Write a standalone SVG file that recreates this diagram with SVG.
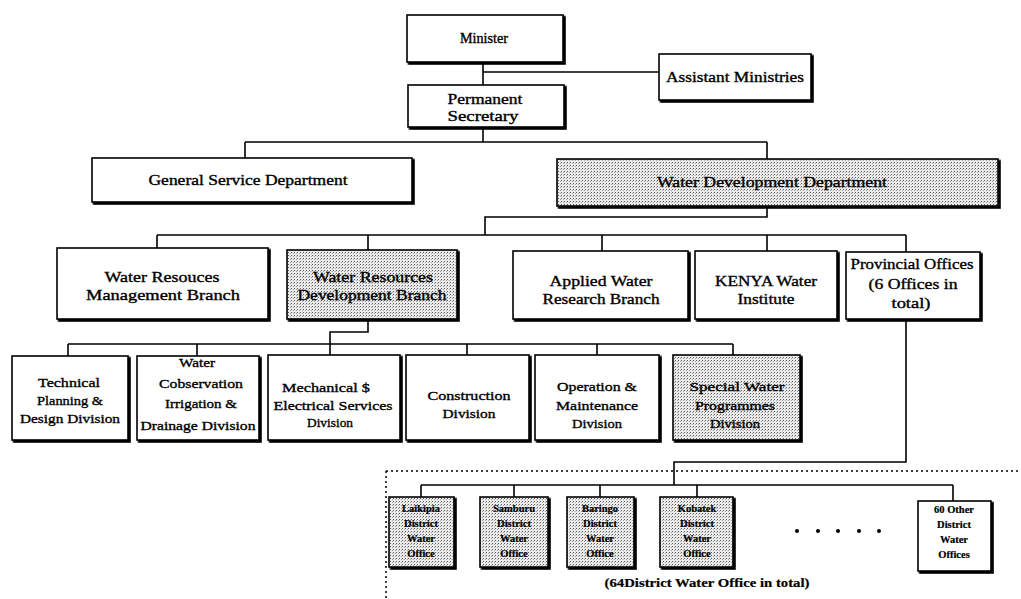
<svg xmlns="http://www.w3.org/2000/svg" width="1021" height="599" viewBox="0 0 1021 599">
  <defs>
    <!-- heavy right/bottom edge on every box -->
    <filter id="edge" x="-5%" y="-5%" width="112%" height="115%">
      <feOffset in="SourceAlpha" dx="1.6" dy="1.6" result="off"/>
      <feMerge><feMergeNode in="off"/><feMergeNode in="SourceGraphic"/></feMerge>
    </filter>
    <!-- stippled grey fill for highlighted units -->
    <pattern id="stipple" width="3" height="3" patternUnits="userSpaceOnUse">
      <rect width="3" height="3" fill="#ebebeb"/>
      <rect x="0" y="0" width="1" height="1" fill="#5a5a5a"/>
      <rect x="2" y="1" width="1" height="1" fill="#a0a0a0"/>
    </pattern>
  </defs>
  <style>
    .box { fill: #fff; stroke: #000; stroke-width: 1.6; filter: url(#edge); }
    .shaded { fill: url(#stipple); }
    .lbl { font-family: "Liberation Serif", "Times New Roman", serif; font-size: 14.5px; fill: #000; stroke: #000; stroke-width: 0.35; text-anchor: middle; }
    .div { font-size: 13.5px; }
    .small { font-size: 10.5px; font-weight: bold; stroke-width: 0.2; }
    .cap { font-weight: bold; font-size: 13px; stroke-width: 0.2; }
    .line { fill: none; stroke: #000; stroke-width: 1.6; }
    .dotted { fill: none; stroke: #000; stroke-width: 1.5; stroke-dasharray: 2 3; }
  </style>
  <rect width="1021" height="599" fill="#fff"/>

  <g id="connectors">
    <path class="line" d="M483 62V85M483 72H659"/>
    <path class="line" d="M483 127V142M245 142H767M245 142V158M767 142V159"/>
    <path class="line" d="M767 206V217H485V235M157 235H906M157 235V248M368 235V250M602 235V251M767 235V251M906 235V252"/>
    <path class="line" d="M368 319V332H330V355M68 344H733M68 344V356M197 344V356M467 344V355M597 344V355M733 344V355"/>
    <path class="line" d="M906 319V462H674V485M421 485H953M421 485V497M514 485V497M600 485V497M697 485V497M953 485V501"/>
    <path class="dotted" d="M386 471H1021M386 471V599"/>
  </g>

  <g id="minister">
    <rect class="box" x="407" y="15" width="156" height="47"/>
    <text class="lbl" x="484" y="43" textLength="48" lengthAdjust="spacingAndGlyphs">Minister</text>
  </g>
  <g id="assistant-ministries">
    <rect class="box" x="659" y="54" width="152" height="46"/>
    <text class="lbl" x="735" y="82" textLength="138" lengthAdjust="spacingAndGlyphs">Assistant Ministries</text>
  </g>
  <g id="permanent-secretary">
    <rect class="box" x="408" y="85" width="156" height="42"/>
    <text class="lbl" x="485" y="104" textLength="75" lengthAdjust="spacingAndGlyphs">Permanent</text>
    <text class="lbl" x="483" y="121" textLength="71" lengthAdjust="spacingAndGlyphs">Secretary</text>
  </g>

  <g id="general-service">
    <rect class="box" x="92" y="158" width="320" height="44"/>
    <text class="lbl" x="248" y="185" textLength="199" lengthAdjust="spacingAndGlyphs">General Service Department</text>
  </g>
  <g id="water-development">
    <rect class="box shaded" x="557" y="159" width="441" height="47"/>
    <text class="lbl" x="772" y="187" textLength="230" lengthAdjust="spacingAndGlyphs">Water Development Department</text>
  </g>

  <g id="wr-management">
    <rect class="box" x="57" y="248" width="211" height="71"/>
    <text class="lbl" x="162" y="282" textLength="115" lengthAdjust="spacingAndGlyphs">Water Resouces</text>
    <text class="lbl" x="163" y="300" textLength="154" lengthAdjust="spacingAndGlyphs">Management Branch</text>
  </g>
  <g id="wr-development">
    <rect class="box shaded" x="287" y="250" width="170" height="69"/>
    <text class="lbl" x="373" y="282" textLength="120" lengthAdjust="spacingAndGlyphs">Water Resources</text>
    <text class="lbl" x="372" y="300" textLength="149" lengthAdjust="spacingAndGlyphs">Development Branch</text>
  </g>
  <g id="applied-research">
    <rect class="box" x="513" y="251" width="175" height="68"/>
    <text class="lbl" x="601" y="286" textLength="103" lengthAdjust="spacingAndGlyphs">Applied Water</text>
    <text class="lbl" x="601" y="304" textLength="117" lengthAdjust="spacingAndGlyphs">Research Branch</text>
  </g>
  <g id="kenya-institute">
    <rect class="box" x="695" y="251" width="142" height="68"/>
    <text class="lbl" x="766" y="286" textLength="102" lengthAdjust="spacingAndGlyphs">KENYA Water</text>
    <text class="lbl" x="766" y="304" textLength="57" lengthAdjust="spacingAndGlyphs">Institute</text>
  </g>
  <g id="provincial-offices">
    <rect class="box" x="846" y="252" width="134" height="67"/>
    <text class="lbl" x="912" y="269" textLength="123" lengthAdjust="spacingAndGlyphs">Provincial Offices</text>
    <text class="lbl" x="913" y="289" textLength="89" lengthAdjust="spacingAndGlyphs">(6 Offices in</text>
    <text class="lbl" x="911" y="308" textLength="39" lengthAdjust="spacingAndGlyphs">total)</text>
  </g>

  <g id="technical-planning">
    <rect class="box" x="12" y="356" width="116" height="84"/>
    <text class="lbl div" x="69" y="387" textLength="62" lengthAdjust="spacingAndGlyphs">Technical</text>
    <text class="lbl div" x="70" y="405" textLength="66" lengthAdjust="spacingAndGlyphs">Planning &amp;</text>
    <text class="lbl div" x="70" y="423" textLength="100" lengthAdjust="spacingAndGlyphs">Design Division</text>
  </g>
  <g id="water-conservation">
    <rect class="box" x="137" y="356" width="122" height="84"/>
    <text class="lbl div" x="197" y="367" textLength="36" lengthAdjust="spacingAndGlyphs">Water</text>
    <text class="lbl div" x="201" y="388" textLength="84" lengthAdjust="spacingAndGlyphs">Cobservation</text>
    <text class="lbl div" x="201" y="408" textLength="72" lengthAdjust="spacingAndGlyphs">Irrigation &amp;</text>
    <text class="lbl div" x="198" y="430" textLength="115" lengthAdjust="spacingAndGlyphs">Drainage Division</text>
  </g>
  <g id="mechanical-electrical">
    <rect class="box" x="268" y="355" width="132" height="85"/>
    <text class="lbl div" x="326" y="392" textLength="88" lengthAdjust="spacingAndGlyphs">Mechanical $</text>
    <text class="lbl div" x="333" y="410" textLength="119" lengthAdjust="spacingAndGlyphs">Electrical Services</text>
    <text class="lbl div" x="330" y="427" textLength="46" lengthAdjust="spacingAndGlyphs">Division</text>
  </g>
  <g id="construction">
    <rect class="box" x="406" y="355" width="123" height="85"/>
    <text class="lbl div" x="469" y="400" textLength="83" lengthAdjust="spacingAndGlyphs">Construction</text>
    <text class="lbl div" x="469" y="418" textLength="53" lengthAdjust="spacingAndGlyphs">Division</text>
  </g>
  <g id="operation-maintenance">
    <rect class="box" x="535" y="355" width="124" height="85"/>
    <text class="lbl div" x="597" y="391" textLength="80" lengthAdjust="spacingAndGlyphs">Operation &amp;</text>
    <text class="lbl div" x="597" y="410" textLength="82" lengthAdjust="spacingAndGlyphs">Maintenance</text>
    <text class="lbl div" x="597" y="428" textLength="50" lengthAdjust="spacingAndGlyphs">Division</text>
  </g>
  <g id="special-water">
    <rect class="box shaded" x="673" y="355" width="127" height="85"/>
    <text class="lbl div" x="737" y="391" textLength="95" lengthAdjust="spacingAndGlyphs">Special Water</text>
    <text class="lbl div" x="735" y="410" textLength="80" lengthAdjust="spacingAndGlyphs">Programmes</text>
    <text class="lbl div" x="735" y="428" textLength="50" lengthAdjust="spacingAndGlyphs">Division</text>
  </g>

  <g id="laikipia">
    <rect class="box shaded" x="389" y="497" width="65" height="70"/>
    <text class="lbl small" x="421" y="512">Laikipia</text>
    <text class="lbl small" x="421" y="527">District</text>
    <text class="lbl small" x="421" y="542">Water</text>
    <text class="lbl small" x="421" y="557">Office</text>
  </g>
  <g id="samburu">
    <rect class="box shaded" x="480" y="497" width="68" height="70"/>
    <text class="lbl small" x="514" y="512">Samburu</text>
    <text class="lbl small" x="514" y="527">District</text>
    <text class="lbl small" x="514" y="542">Water</text>
    <text class="lbl small" x="514" y="557">Office</text>
  </g>
  <g id="baringo">
    <rect class="box shaded" x="567" y="497" width="67" height="70"/>
    <text class="lbl small" x="600" y="512">Baringo</text>
    <text class="lbl small" x="600" y="527">District</text>
    <text class="lbl small" x="600" y="542">Water</text>
    <text class="lbl small" x="600" y="557">Office</text>
  </g>
  <g id="kobatek">
    <rect class="box shaded" x="660" y="497" width="73" height="70"/>
    <text class="lbl small" x="697" y="512">Kobatek</text>
    <text class="lbl small" x="697" y="527">District</text>
    <text class="lbl small" x="697" y="542">Water</text>
    <text class="lbl small" x="697" y="557">Office</text>
  </g>
  <g id="other-district-offices">
    <rect class="box" x="918" y="501" width="73" height="70"/>
    <text class="lbl small" x="954" y="513">60 Other</text>
    <text class="lbl small" x="954" y="528">District</text>
    <text class="lbl small" x="954" y="543">Water</text>
    <text class="lbl small" x="954" y="558">Offices</text>
  </g>

  <g id="ellipsis" fill="#000">
    <circle cx="797" cy="531" r="2"/>
    <circle cx="818" cy="531" r="2"/>
    <circle cx="838" cy="531" r="2"/>
    <circle cx="859" cy="531" r="2"/>
    <circle cx="879" cy="531" r="2"/>
  </g>
  <text class="lbl cap" x="707" y="587" textLength="205" lengthAdjust="spacingAndGlyphs">(64District Water Office in total)</text>
</svg>
